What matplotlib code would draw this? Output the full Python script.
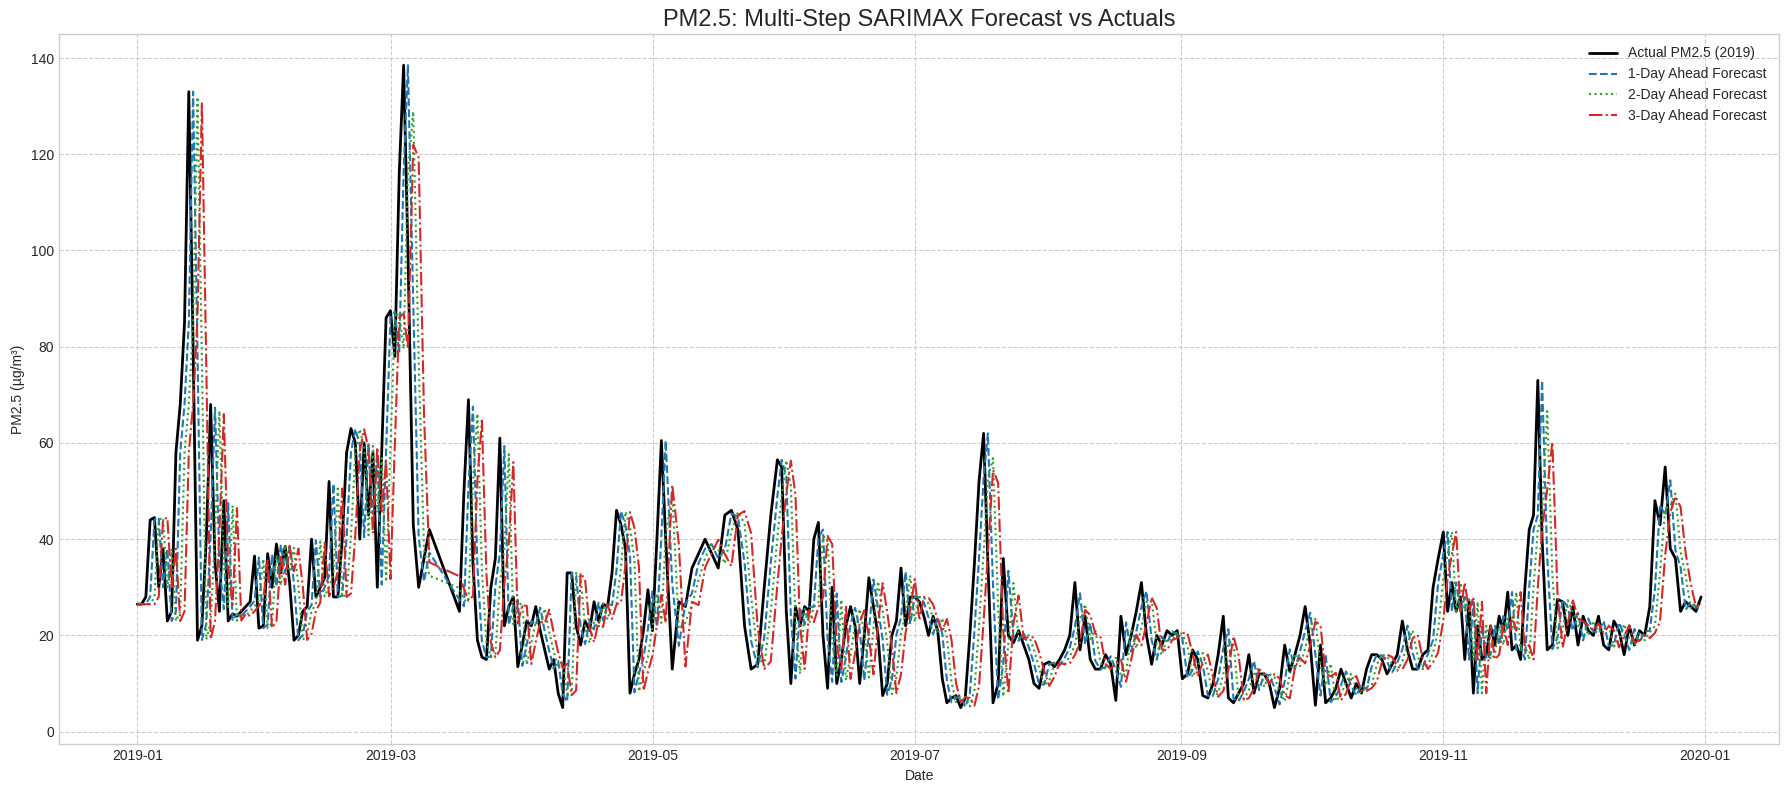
import numpy as np
import pandas as pd
import matplotlib
matplotlib.use("Agg")
import matplotlib.pyplot as plt
import matplotlib.dates as mdates

# Segments of actual PM2.5 readings: (start date, end date, values)
seg1 = ("2019-01-01", "2019-01-13", [26.5,26.5,28,44,44.5,30,38,23,25,58,68,85,133])
seg2 = ("2019-01-14", "2019-03-04", [80,19,22,40,68,35,25,48,23,24.5,24,25,26,27,36.5,21.5,22,37,30,39,33,38.5,31,19,20,25,26,40,28,30,32,52,28,28,40,58,63,60,40,60,45,58,30,58,86,87.5,78,116,138.5])
seg3 = ("2019-03-05", "2019-03-10", [100,43,30,36,42])
seg4 = ("2019-03-17", "2019-05-03", [25,50,69,35,19,15.5,15,30,36,61,22,26,28,13.5,18,23,22,26,21,17,13,15,8,5,33,33,22,18,23,21,27,23,26.5,26,33,46,43,38,8,12,15,21,29.5,21,40,60.5])
seg5 = ("2019-05-04", "2019-05-30", [40,13,27,26,34,37,40,37,34,45,46,42,22,13,14,30,45,56.5])
seg6 = ("2019-05-31", "2019-07-17", [55,25,10,26,22,26,25,40,43.5,20,9,30,10,15,22,26,22,10,20,32,26,20,7.5,10,20,23,34,22,28,28,27,24,20,24,21,11,6,7,7.5,5,7,20,35,52,62])
seg7 = ("2019-07-18", "2019-11-01", [35,6,10,36,20,18.5,21,18,15,10,9,14,14.5,13.5,15,17,20,31,17,24,15,13,13,16,14,6.5,24,16,20,25,31,20,14,20,18,21,20,21,11,12,17,15,7.5,7,10,16,24,7,6,8,10,16,8,12,12,10,5,9,18,12.5,16,20,26,18,5.5,18,6,7,9,13,10,7,10,8,13,16,16,15,12,14,16,23,17,13,13,16,17,30,36,41.5])
seg8 = ("2019-11-02", "2019-11-23", [25,31,25,28,15,27,8,22,15,16,22,18,24,21,29,17,18,15,30,42,45,73])
seg9 = ("2019-11-24", "2019-12-31", [40,17,18,27.5,27,20,26,18,24,21,20,24,18,17,23,21,16,22,18,21,20,26,48,43,55,38,36,25,27,26,25,28])
segments = [seg1, seg2, seg3, seg4, seg5, seg6, seg7, seg8, seg9]

dates, vals = [], []
for s, e, v in segments:
    d = pd.date_range(s, e, periods=len(v))
    dates.extend(d)
    vals.extend(v)
dates = pd.DatetimeIndex(dates)
vals = np.array(vals, float)
t = mdates.date2num(dates)

def shifted(lag):
    return np.interp(t - lag, t, vals)

plt.style.use("seaborn-v0_8-whitegrid")
plt.rcParams['font.family'] = ['Liberation Sans', 'DejaVu Sans']
fig, ax = plt.subplots(figsize=(17.9, 7.9), dpi=100)
ax.plot(dates, vals, color="black", lw=2, label="Actual PM2.5 (2019)")
ax.plot(dates, shifted(1), color="#1f77b4", ls="--", lw=1.5, label="1-Day Ahead Forecast")
ax.plot(dates, shifted(2), color="#2ca02c", ls=":", lw=1.5, label="2-Day Ahead Forecast")
ax.plot(dates, shifted(3), color="#d62728", ls="-.", lw=1.5, label="3-Day Ahead Forecast")
ax.set_title("PM2.5: Multi-Step SARIMAX Forecast vs Actuals", fontsize=17)
ax.set_xlabel("Date")
ax.set_ylabel("PM2.5 (µg/m³)")
ax.grid(True, ls="--", color="#cccccc")
for sp in ax.spines.values():
    sp.set_visible(True); sp.set_color("#cccccc")
ax.xaxis.set_major_locator(mdates.MonthLocator(bymonth=[1,3,5,7,9,11]))
ax.xaxis.set_major_formatter(mdates.DateFormatter("%Y-%m"))
ax.set_ylim(-2.6, 145)
ax.legend(loc="upper right")
fig.subplots_adjust(left=0.033, right=0.994, top=0.957, bottom=0.058)
fig.savefig("out.png", dpi=100)
